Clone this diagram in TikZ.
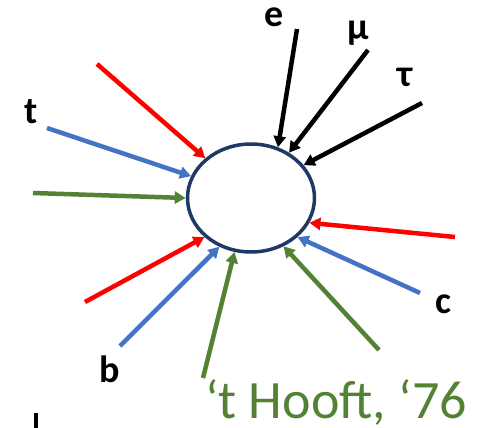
\documentclass[tikz,border=0pt]{standalone}
\usepackage{fontspec}
\setmainfont{Carlito}
\usetikzlibrary{arrows.meta, shapes.geometric}
\definecolor{cred}{HTML}{FF0000}
\definecolor{cblue}{HTML}{4472C4}
\definecolor{cgreen}{HTML}{548235}
\definecolor{cnavy}{HTML}{1F3864}
\tikzset{
  every picture/.style={x=1pt, y=-1pt},
  feed/.style={draw=#1, line width=4.5pt, -{Triangle[length=11pt, width=12pt]}},
  feed/.default=black,
  blob/.style={ellipse, draw=cnavy, line width=3.5pt, fill=white, minimum width=127pt, minimum height=108pt, inner sep=0pt},
  lbl/.style={font=\fontsize{38}{40}\selectfont\bfseries, anchor=base, inner sep=0pt},
}

\begin{document}
\begin{tikzpicture}
  \useasboundingbox (0,0) rectangle (493,428);
  \node[blob] (loop) at (251,198) {};
  % legs running into the loop
  \foreach \x/\y/\a/\c/\i in {97/64/139/cred/1, 47/128/160/cblue/2, 33/193/180/cgreen/3,
      85/302/220/cred/4, 120/346/237/cblue/5, 203/378/253/cgreen/6,
      379/350/304/cgreen/7, 420/293/320/cblue/8, 455/237/337/cred/9,
      422/103/32/black/10, 368/50/50/black/11, 297/29/62/black/12} {
    \coordinate (s\i) at (\x,\y);
    \draw[feed=\c] (s\i) -- (loop.\a);
  }
  \node[lbl] (le) at (274,27) {e};
  \node[lbl] (lmu) at (358,40) {μ};
  \node[lbl] (ltau) at (405,87) {τ};
  \node[lbl] (lt) at (31,123) {t};
  \node[lbl] (lc) at (443,313) {c};
  \node[lbl] (lb) at (110,382) {b};
  \node[font=\fontsize{54}{56}\selectfont, text=cgreen, anchor=base west, inner sep=0pt] (hooft) at (205,418) {‘t Hooft, ‘76};
  \fill (34,413) rectangle (38,428);
\end{tikzpicture}
\end{document}
